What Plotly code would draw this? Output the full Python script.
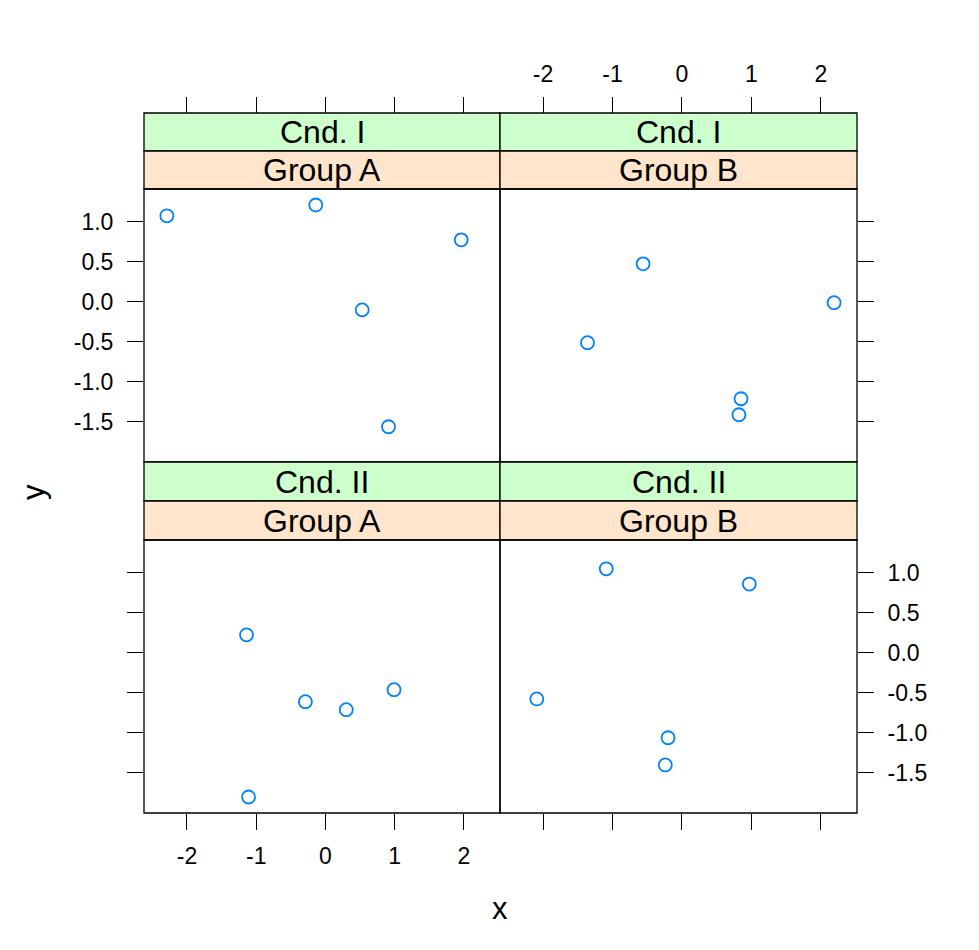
import plotly.graph_objects as go

# ---- data ----
ga1_x = [-2.29, -0.14, 1.96, 0.53, 0.91]
ga1_y = [1.075, 1.21, 0.775, -0.10, -1.56]
gb1_x = [-1.36, -0.56, 2.19, 0.85, 0.82]
gb1_y = [-0.51, 0.475, -0.01, -1.21, -1.41]
ga2_x = [-1.14, -1.11, -0.29, 0.30, 0.99]
ga2_y = [0.225, -1.80, -0.61, -0.71, -0.46]
gb2_x = [-2.09, -1.09, 0.97, -0.20, -0.24]
gb2_y = [-0.575, 1.05, 0.86, -1.06, -1.40]

x_tickvals = [-2, -1, 0, 1, 2]
x_ticktext = ["-2", "-1", "0", "1", "2"]
y_tickvals = [1.0, 0.5, 0.0, -0.5, -1.0, -1.5]
y_ticktext = ["1.0", "0.5", "0.0", "-0.5", "-1.0", "-1.5"]

cond_labels = ["Cnd. I", "Cnd. II"]
group_labels = ["Group A", "Group B"]

# page is offset 8px by the body margin; build the figure to fit inside it
OFF = 8
W, H = 979 - 2 * OFF, 950 - 2 * OFF
def px(x):
    return (x - OFF) / W
def py(y):
    return 1 - (y - OFF) / H

FONT = "Liberation Sans, Arial, sans-serif"
PT = "#0080FF"
XR = [-2.62, 2.52]
YR = [-2.0, 1.41]

cols = [(144, 500), (500, 857)]
rows = [dict(strip_top=113, strip_mid=151, panel_top=189, panel_bot=462),
        dict(strip_top=462, strip_mid=501, panel_top=540, panel_bot=813)]

fig = go.Figure()
series = [(ga1_x, ga1_y), (gb1_x, gb1_y), (ga2_x, ga2_y), (gb2_x, gb2_y)]
for i, (xs, ys) in enumerate(series):
    n = "" if i == 0 else str(i + 1)
    fig.add_trace(go.Scatter(x=xs, y=ys, mode="markers", xaxis="x" + n, yaxis="y" + n,
                             marker=dict(symbol="circle-open", size=13, color=PT,
                                         line=dict(width=1.8, color=PT)),
                             showlegend=False, hoverinfo="skip"))

common = dict(showgrid=False, zeroline=False, showline=False, ticks="outside",
              ticklen=16, tickwidth=1.3, tickcolor="black",
              tickfont=dict(family=FONT, size=23, color="black"))

layout = {}
shapes = []
annots = []
for r, row in enumerate(rows):
    for c, (x0, x1) in enumerate(cols):
        i = r * 2 + c
        n = "" if i == 0 else str(i + 1)
        xa = dict(common, domain=[px(x0), px(x1)], range=XR,
                  tickvals=x_tickvals, ticktext=x_ticktext, ticklabelstandoff=6)
        if r == 0:
            xa.update(anchor="free", position=py(row["strip_top"]), side="top",
                      showticklabels=(c == 1))
        else:
            xa.update(anchor="y" + n, side="bottom", showticklabels=(c == 0))
        ya = dict(common, domain=[py(row["panel_bot"]), py(row["panel_top"])], range=YR,
                  tickvals=y_tickvals, ticktext=y_ticktext, anchor="x" + n,
                  ticklabelstandoff=9)
        if c == 0:
            ya.update(side="left", showticklabels=(r == 0))
        else:
            ya.update(side="right", showticklabels=(r == 1))
        layout["xaxis" + n] = xa
        layout["yaxis" + n] = ya

        # strips
        shapes.append(dict(type="rect", xref="paper", yref="paper",
                           x0=px(x0), x1=px(x1), y0=py(row["strip_mid"]), y1=py(row["strip_top"]),
                           fillcolor="#CCFFCC", line=dict(color="black", width=1.3)))
        shapes.append(dict(type="rect", xref="paper", yref="paper",
                           x0=px(x0), x1=px(x1), y0=py(row["panel_top"]), y1=py(row["strip_mid"]),
                           fillcolor="#FFE5CC", line=dict(color="black", width=1.3)))
        # panel border
        shapes.append(dict(type="rect", xref="paper", yref="paper",
                           x0=px(x0), x1=px(x1), y0=py(row["panel_bot"]), y1=py(row["panel_top"]),
                           line=dict(color="black", width=1.3), layer="above"))
        xc = px((x0 + x1) / 2)
        annots.append(dict(xref="paper", yref="paper", x=xc,
                           y=py((row["strip_top"] + row["strip_mid"]) / 2),
                           text=cond_labels[r], showarrow=False, xanchor="center", yanchor="middle",
                           font=dict(family=FONT, size=32, color="black")))
        annots.append(dict(xref="paper", yref="paper", x=xc,
                           y=py((row["strip_mid"] + row["panel_top"]) / 2),
                           text=group_labels[c], showarrow=False, xanchor="center", yanchor="middle",
                           font=dict(family=FONT, size=32, color="black")))

annots.append(dict(xref="paper", yref="paper", x=px(500), y=py(908), text="x", showarrow=False,
                   xanchor="center", yanchor="middle", font=dict(family=FONT, size=31, color="black")))
annots.append(dict(xref="paper", yref="paper", x=px(33), y=py(492), text="y", showarrow=False,
                   textangle=-90, xanchor="center", yanchor="middle",
                   font=dict(family=FONT, size=31, color="black")))

fig.update_layout(**layout)
fig.update_layout(width=W, height=H, margin=dict(l=0, r=0, t=0, b=0, autoexpand=False),
                  paper_bgcolor="white", plot_bgcolor="white",
                  shapes=shapes, annotations=annots, showlegend=False)

fig.write_html("out.html")
